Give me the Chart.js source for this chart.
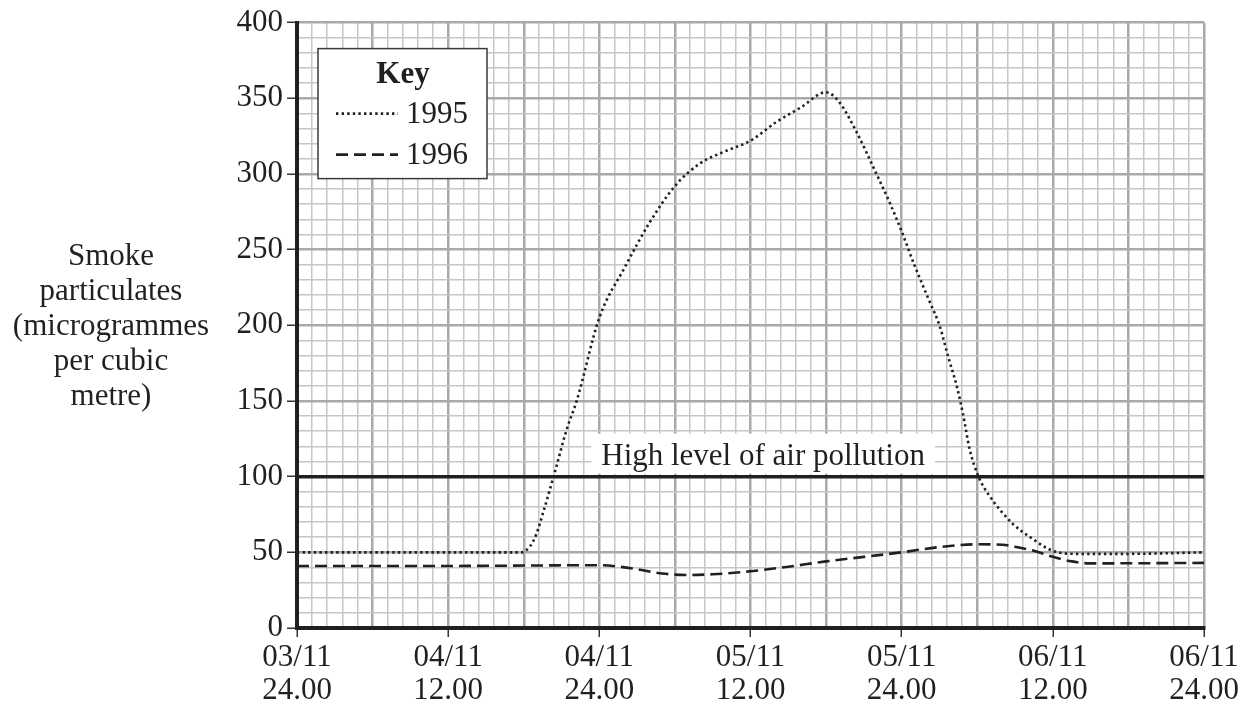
<!DOCTYPE html>
<html>
<head>
<meta charset="utf-8">
<script src="https://cdn.jsdelivr.net/npm/chart.js@4.4.1/dist/chart.umd.min.js"></script>
<style>
  html, body { margin: 0; padding: 0; background: #fff; }
  #wrap { width: 1249px; height: 706px; position: relative; }
</style>
</head>
<body>
<div id="wrap"><canvas id="smoke"></canvas></div>
<script>
// hours after 03/11 24.00
const hours1995 = [0, 12, 17.8, 18.5, 19, 19.6, 20.5, 21.4, 22.2, 24, 26, 28, 30, 32, 34, 36, 38, 40, 42, 43, 44.4, 46, 47, 48, 49, 50.2, 51, 51.7, 52.4, 52.9, 53.4, 54.1, 55, 56.8, 58.2, 60, 62, 66, 72];
const values1995 = [50, 50, 50, 54, 62, 78, 104, 131, 150, 205, 238, 268, 292, 307, 315, 322, 334, 344, 354, 348, 328, 300, 282, 262, 240, 216, 200, 179, 159, 140, 118, 100, 87, 69, 60, 51, 49, 49, 50];

const hours1996 = [0, 12, 24, 26.5, 29, 31, 33, 36, 39, 42, 45, 48, 51, 54, 56, 57, 58.5, 60, 61.5, 63, 72];
const values1996 = [41, 41, 41.5, 39.5, 36, 35, 35.5, 37.5, 40.5, 44, 47, 50, 53.5, 55.3, 55, 53.7, 51, 47, 44, 42.7, 43];

const xTickLabels = [
    ['03/11', '24.00'], ['04/11', '12.00'], ['04/11', '24.00'], ['05/11', '12.00'],
    ['05/11', '24.00'], ['06/11', '12.00'], ['06/11', '24.00']
];
const yTitleLines = ['Smoke', 'particulates', '(microgrammes', 'per cubic', 'metre)'];
const highLevel = 100;
const highLevelText = 'High level of air pollution';

const FONT = "'Liberation Serif', 'Times New Roman', serif";
const MINOR = '#c6c6c6';
const MAJOR = '#a9a9a9';

const toPoints = (xs, ys) => xs.map((x, i) => ({ x, y: ys[i] }));

// horizontal y-axis title, left of the numbers
const yTitle = {
    id: 'yTitle',
    afterDraw(chart) {
        const { ctx, chartArea } = chart;
        const mid = (chartArea.top + chartArea.bottom) / 2 + 2;
        const step = 35;
        ctx.save();
        ctx.font = '31px ' + FONT;
        ctx.fillStyle = '#231f20';
        ctx.textAlign = 'center';
        ctx.textBaseline = 'middle';
        yTitleLines.forEach((t, i) => {
            ctx.fillText(t, 111, mid + (i - 2) * step);
        });
        ctx.restore();
    }
};

// threshold line at 100 with its boxed caption
const highLine = {
    id: 'highLine',
    beforeDatasetsDraw(chart) {
        const { ctx, scales } = chart;
        const y = scales.y.getPixelForValue(highLevel);
        const cx = scales.x.getPixelForValue(37);
        ctx.save();
        ctx.font = '31px ' + FONT;
        const w = ctx.measureText(highLevelText).width;
        ctx.fillStyle = '#fff';
        ctx.fillRect(cx - w / 2 - 10, y - 43, w + 20, 40);
        ctx.fillStyle = '#231f20';
        ctx.textAlign = 'center';
        ctx.textBaseline = 'alphabetic';
        ctx.fillText(highLevelText, cx, y - 12);
        ctx.restore();
    },
    afterDatasetsDraw(chart) {
        const { ctx, chartArea, scales } = chart;
        const y = scales.y.getPixelForValue(highLevel);
        ctx.save();
        ctx.strokeStyle = '#231f20';
        ctx.lineWidth = 3.5;
        ctx.beginPath();
        ctx.moveTo(chartArea.left, y);
        ctx.lineTo(chartArea.right, y);
        ctx.stroke();
        ctx.restore();
    }
};

// boxed key in the top left corner
const keyBox = {
    id: 'keyBox',
    afterDatasetsDraw(chart) {
        const { ctx, chartArea } = chart;
        const x0 = chartArea.left + 21;
        const y0 = chartArea.top + 26;
        ctx.save();
        ctx.fillStyle = '#fff';
        ctx.fillRect(x0, y0, 169, 130);
        ctx.strokeStyle = '#3a3a3a';
        ctx.lineWidth = 1.5;
        ctx.strokeRect(x0, y0, 169, 130);

        ctx.fillStyle = '#231f20';
        ctx.textBaseline = 'middle';
        ctx.textAlign = 'center';
        ctx.font = 'bold 31px ' + FONT;
        ctx.fillText('Key', x0 + 85, y0 + 26);

        ctx.textAlign = 'left';
        ctx.font = '31px ' + FONT;
        chart.data.datasets.forEach((ds, i) => {
            const ly = y0 + 65 + i * 41;
            ctx.save();
            ctx.strokeStyle = ds.borderColor;
            ctx.lineWidth = ds.borderWidth;
            ctx.setLineDash(ds.borderDash);
            ctx.beginPath();
            ctx.moveTo(x0 + 18, ly);
            ctx.lineTo(x0 + 80, ly);
            ctx.stroke();
            ctx.restore();
            ctx.fillText(ds.label, x0 + 88, ly + 1);
        });
        ctx.restore();
    }
};

new Chart(document.getElementById('smoke'), {
    type: 'line',
    data: {
        datasets: [
            { label: '1995', data: toPoints(hours1995, values1995), borderColor: '#231f20', borderWidth: 2.6, borderDash: [2.4, 3.2] },
            { label: '1996', data: toPoints(hours1996, values1996), borderColor: '#231f20', borderWidth: 2.6, borderDash: [12, 6] }
        ].map(d => ({ ...d, pointRadius: 0, fill: false, cubicInterpolationMode: 'monotone' }))
    },
    options: {
        responsive: true,
        maintainAspectRatio: false,
        animation: false,
        layout: { padding: { left: 0, right: 45, top: 22, bottom: 0 } },
        plugins: {
            legend: { display: false },
            tooltip: { enabled: false }
        },
        scales: {
            x: {
                type: 'linear',
                min: 0, max: 72,
                afterBuildTicks(scale) {
                    const t = [];
                    for (let i = 0; i <= 60; i++) t.push({ value: i * 1.2 });
                    scale.ticks = t;
                },
                afterFit(scale) { scale.height = 78; },
                ticks: {
                    autoSkip: false, maxRotation: 0, minRotation: 0,
                    padding: 4,
                    color: '#231f20',
                    font: { family: FONT, size: 31, lineHeight: 1.07 },
                    callback: (v, i) => i % 10 === 0 ? xTickLabels[i / 10] : ''
                },
                grid: {
                    color: c => c.index % 5 === 0 ? MAJOR : MINOR,
                    lineWidth: c => c.index % 5 === 0 ? 2.5 : 1.5,
                    tickLength: 9,
                    tickWidth: 1.5,
                    tickColor: c => c.index % 10 === 0 ? '#333' : 'rgba(0,0,0,0)'
                },
                border: { color: '#231f20', width: 4 }
            },
            y: {
                min: 0, max: 400,
                afterFit(scale) { scale.width = 297; },
                ticks: {
                    stepSize: 10,
                    autoSkip: false,
                    padding: 4,
                    color: '#231f20',
                    font: { family: FONT, size: 31 },
                    callback: v => v % 50 === 0 ? v : ''
                },
                grid: {
                    color: c => c.tick.value % 50 === 0 ? MAJOR : MINOR,
                    lineWidth: c => c.tick.value % 50 === 0 ? 2.5 : 1.5,
                    tickLength: 10,
                    tickWidth: 1.5,
                    tickColor: c => c.tick.value % 50 === 0 ? '#333' : 'rgba(0,0,0,0)'
                },
                border: { color: '#231f20', width: 4 }
            }
        }
    },
    plugins: [yTitle, highLine, keyBox]
});
</script>
</body>
</html>
